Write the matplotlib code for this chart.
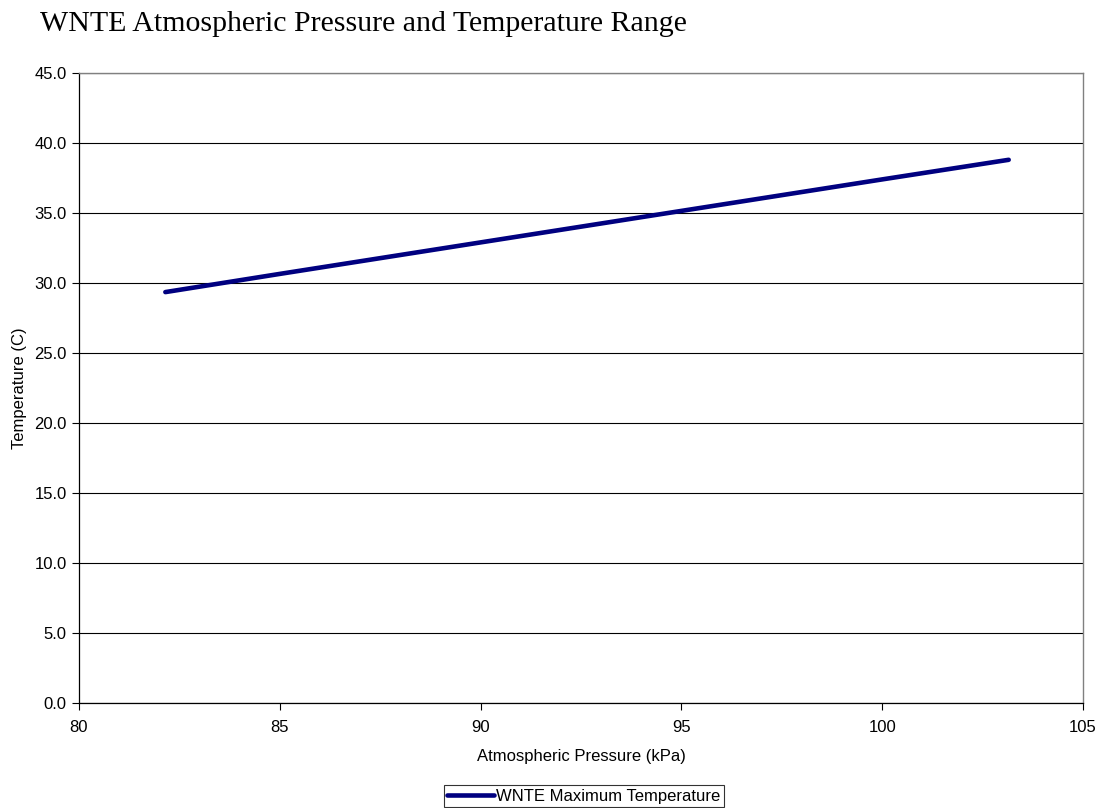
import matplotlib
matplotlib.use("Agg")
import matplotlib.pyplot as plt
from matplotlib.ticker import FormatStrFormatter, MultipleLocator

pressure_kpa = [82.15, 85.0, 90.0, 95.0, 100.0, 103.15]
max_temp_c = [29.35, 30.65, 32.9, 35.15, 37.4, 38.8]

series_label = "WNTE Maximum Temperature"
title = "WNTE Atmospheric Pressure and Temperature Range"

plt.rcParams['font.family'] = ['Liberation Sans', 'DejaVu Sans']

fig = plt.figure(figsize=(11.07, 8.08), dpi=100)
ax = fig.add_axes([79/1107, 105/808, (1083-79)/1107, (703-73)/808])

ax.plot(pressure_kpa, max_temp_c, color='#000080', lw=3.3, solid_capstyle='round',
        label=series_label, zorder=3)

ax.set_xlim(80, 105)
ax.set_ylim(0, 45)
ax.xaxis.set_major_locator(MultipleLocator(5))
ax.yaxis.set_major_locator(MultipleLocator(5))
ax.yaxis.set_major_formatter(FormatStrFormatter('%.1f'))
ax.grid(axis='y', color='black', lw=0.8, zorder=1)
ax.set_axisbelow(True)

for s in ['top', 'right']:
    ax.spines[s].set_color('#808080')
    ax.spines[s].set_linewidth(1.0)
for s in ['left', 'bottom']:
    ax.spines[s].set_color('black')
    ax.spines[s].set_linewidth(0.9)

ax.tick_params(axis='both', direction='out', length=5, width=0.8, labelsize=12,
               colors='black', pad=4)
ax.tick_params(axis='x', pad=7)

ax.set_xlabel("Atmospheric Pressure (kPa)", fontsize=12, labelpad=10)
ax.set_ylabel("Temperature (C)", fontsize=12, labelpad=5)

fig.text(40/1107, 1 - 31/808, title, fontsize=21.5, family=['Liberation Serif'],
         ha='left', va='baseline')

leg = fig.legend(loc='center', bbox_to_anchor=(584/1107, 1 - 796/808), fontsize=12,
                 frameon=True, fancybox=False, edgecolor='black', handlelength=2.8,
                 handletextpad=0.15, borderpad=0.2, borderaxespad=0)
leg.get_frame().set_linewidth(0.8)

fig.savefig("out.png", dpi=100, facecolor='white')
